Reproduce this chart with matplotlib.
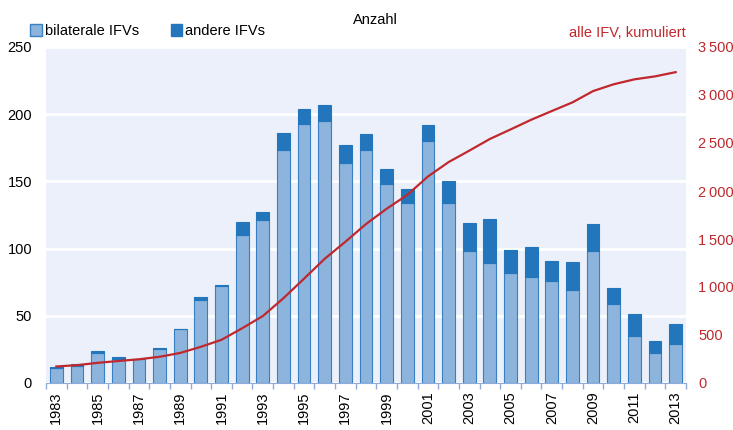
import matplotlib.pyplot as plt
from matplotlib.patches import Patch
from matplotlib.ticker import FuncFormatter

plt.rcParams['font.family'] = ['Liberation Sans', 'DejaVu Sans']

# values
years = list(range(1983, 2014))
bilateral = [11, 13, 22, 18, 18, 25, 40, 62, 72, 110, 121, 173, 193, 195, 164, 173,
             148, 134, 180, 134, 98, 89, 82, 79, 76, 69, 98, 59, 35, 22, 29]
other = [1, 1, 2, 1, 0, 1, 0, 2, 1, 10, 6, 13, 11, 12, 13, 12,
         11, 10, 12, 16, 21, 33, 17, 22, 15, 21, 20, 12, 16, 9, 15]
cumulated = [172, 186, 210, 229, 247, 273, 313, 377, 450, 570, 697, 883, 1087, 1294,
             1471, 1656, 1815, 1959, 2151, 2301, 2420, 2542, 2641, 2742, 2833, 2923,
             3041, 3112, 3163, 3194, 3238]

light_blue = "#8db4dc"
dark_blue = "#2376bb"
edge_blue = "#3a7fc0"
red = "#c0282d"

fig = plt.figure(figsize=(7.33, 4.3), dpi=100)
ax = fig.add_axes([46 / 733, 1 - 383 / 430, 640 / 733, 336 / 430])
ax.set_facecolor("#ecf0fa")

x = list(range(len(years)))
ax.bar(x, bilateral, width=0.62, color=light_blue, edgecolor=edge_blue, linewidth=0.8, zorder=3)
ax.bar(x, other, bottom=bilateral, width=0.62, color=dark_blue, edgecolor=dark_blue,
       linewidth=0.8, zorder=3)

ax.set_xlim(-0.5, len(years) - 0.5)
ax.set_ylim(0, 250)
ax.set_yticks([0, 50, 100, 150, 200, 250])
ax.grid(axis="y", color="white", linewidth=2, zorder=1)
ax.set_axisbelow(True)

ax.set_xticks(x[::2])
ax.set_xticklabels([str(y) for y in years[::2]], rotation=90)
ax.set_xticks([i + 0.5 for i in range(-1, len(years))], minor=True)
ax.tick_params(axis="x", which="major", length=0, labelsize=10.5, pad=6)
ax.tick_params(axis="x", which="minor", length=4, color="#8faadc", width=1)
ax.tick_params(axis="y", length=0, labelsize=10.5, pad=10)
for s in ["top", "left", "right"]:
    ax.spines[s].set_visible(False)
ax.spines["bottom"].set_color("#8faadc")

ax2 = ax.twinx()
ax2.plot(x, cumulated, color=red, linewidth=1.6, zorder=4)
ax2.set_ylim(0, 3500)
ax2.set_yticks(range(0, 3501, 500))
ax2.yaxis.set_major_formatter(FuncFormatter(lambda v, p: f"{int(v):,}".replace(",", "\u2009")))
ax2.tick_params(axis="y", length=0, labelsize=10.5, labelcolor=red, pad=9)
for s in ["top", "left", "right", "bottom"]:
    ax2.spines[s].set_visible(False)

fig.text(375 / 733, 1 - 20 / 430, "Anzahl", ha="center", va="center", fontsize=10.5)
fig.text(686 / 733, 1 - 33 / 430, "alle IFV, kumuliert", ha="right", va="center",
         fontsize=10.5, color=red)

handles = [Patch(facecolor=light_blue, edgecolor=edge_blue), Patch(facecolor=dark_blue, edgecolor=dark_blue)]
fig.legend(handles, ["bilaterale IFVs", "andere IFVs"], loc="center left",
           bbox_to_anchor=(30 / 733, 1 - 31 / 430), ncol=2, frameon=False, fontsize=10.5,
           handlelength=0.8, handleheight=0.8, handletextpad=0.2, columnspacing=2.2,
           borderaxespad=0, borderpad=0)

fig.savefig("out.png", dpi=100)
